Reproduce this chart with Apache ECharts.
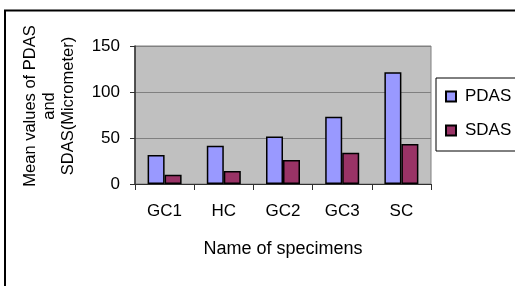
<!DOCTYPE html>
<html>
<head>
<meta charset="utf-8">
<script src="https://cdn.jsdelivr.net/npm/echarts@6/dist/echarts.min.js"></script>
<style>
  html, body { margin: 0; padding: 0; background: #fff; }
  #chart { width: 515px; height: 286px; }
</style>
</head>
<body>
<div id="chart"></div>
<script>
  // data
  var specimens = ['GC1', 'HC', 'GC2', 'GC3', 'SC']
  var pdas = [31.5, 41.5, 51.5, 73, 121.5]
  var sdas = [10, 14, 26, 34, 43.5]
  var yTicks = [0, 50, 100, 150]

  var font = 'Liberation Sans, Arial, sans-serif'
  var myChart = echarts.init(document.getElementById('chart'))
  myChart.setOption({
    animation: false,
    backgroundColor: '#fff',
    textStyle: { fontFamily: font },
    graphic: [
      {
        type: 'rect',
        shape: { x: 5, y: 10.5, width: 700, height: 400 },
        style: { fill: 'none', stroke: '#000', lineWidth: 2 },
        z: -1
      }
    ],
    grid: {
      left: 135,
      top: 46,
      width: 296,
      height: 138,
      show: true,
      backgroundColor: '#c0c0c0',
      borderColor: '#808080',
      borderWidth: 1
    },
    legend: {
      orient: 'vertical',
      left: 436,
      top: 78,
      padding: [10, 60, 12, 9],
      itemWidth: 10,
      itemHeight: 10,
      itemGap: 17,
      icon: 'rect',
      backgroundColor: '#fff',
      borderColor: '#000',
      borderWidth: 1,
      textStyle: { fontSize: 17, color: '#000', fontFamily: font, padding: [0, 0, 0, 4] },
      data: ['PDAS', 'SDAS']
    },
    xAxis: {
      type: 'category',
      data: specimens,
      name: 'Name of specimens',
      nameLocation: 'middle',
      nameGap: 56,
      nameTextStyle: { fontSize: 18, color: '#000', fontFamily: font },
      axisLine: { lineStyle: { color: '#303030', width: 1 } },
      axisTick: { show: true, length: 6, lineStyle: { color: '#303030' } },
      axisLabel: { fontSize: 17, color: '#000', margin: 19 }
    },
    yAxis: {
      type: 'value',
      min: yTicks[0],
      max: yTicks[yTicks.length - 1],
      interval: 50,
      name: 'Mean values of PDAS\nand\nSDAS(Micrometer)',
      nameLocation: 'middle',
      nameRotate: 90,
      nameGap: 57,
      nameTextStyle: { fontSize: 16.5, color: '#000', lineHeight: 19, fontFamily: font, padding: [0, 0, 0, 18] },
      axisLine: { show: true, lineStyle: { color: '#303030', width: 1.5 } },
      axisTick: { show: true, length: 5, lineStyle: { color: '#303030' } },
      axisLabel: { fontSize: 17, color: '#000', margin: 15 },
      splitLine: { lineStyle: { color: '#808080', width: 1 } }
    },
    series: [
      {
        name: 'PDAS',
        type: 'bar',
        barWidth: 17,
        barGap: '0%',
        data: pdas,
        itemStyle: { color: '#9999ff', borderColor: '#000', borderWidth: 1.5 }
      },
      {
        name: 'SDAS',
        type: 'bar',
        barWidth: 17,
        data: sdas,
        itemStyle: { color: '#993366', borderColor: '#000', borderWidth: 1.5 }
      }
    ]
  })
</script>
</body>
</html>
